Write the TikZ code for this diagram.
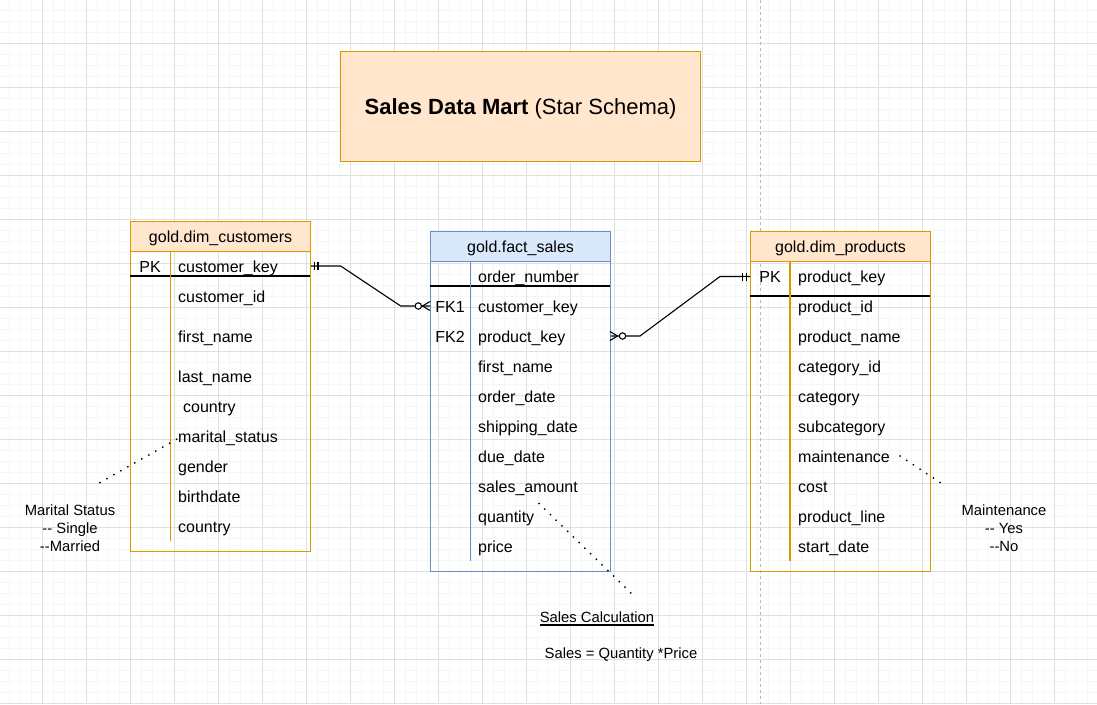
\documentclass[tikz,border=0pt]{standalone}
\usepackage{fontspec}
\setmainfont{Liberation Sans}
\definecolor{peach}{HTML}{FFE6CC}
\definecolor{orgB}{HTML}{D79B00}
\definecolor{bluF}{HTML}{DAE8FC}
\definecolor{bluB}{HTML}{6C8EBF}
\definecolor{gridmin}{HTML}{F6F6F6}
\definecolor{gridmaj}{HTML}{E0E0E0}
\definecolor{pageln}{HTML}{B8B8B8}
\tikzset{
 fld/.style={font=\fontsize{16}{19}\selectfont, inner sep=0pt, anchor=base west},
 keylbl/.style={font=\fontsize{16}{19}\selectfont, inner sep=0pt, anchor=base},
 hdr/.style={font=\fontsize{16}{19}\selectfont, minimum width=180pt, minimum height=30pt, anchor=north west, inner sep=0pt, text height=12.5pt, text depth=0pt, line width=1.1pt},
 tbl/.style={minimum width=180pt, anchor=north west, inner sep=0pt, line width=1.1pt},
 rel/.style={line width=1.1pt, black},
 dotln/.style={line width=2pt, line cap=round, dash pattern=on 0pt off 8pt, black},
 note/.style={font=\fontsize{14.8}{18}\selectfont, align=center, inner sep=0pt},
 minorln/.style={gridmin, line width=0.8pt},
 majorln/.style={gridmaj, line width=1pt},
}
\begin{document}
\begin{tikzpicture}[x=1pt,y=-1pt]
\fill[white] (0,0) rectangle (1097,704);
\useasboundingbox (0,0) rectangle (1097,704);
% grid
\foreach \i in {0,...,99} \draw[minorln] ({9.3+11*\i},0) -- ({9.3+11*\i},704);
\foreach \j in {0,...,63} \draw[minorln] (0,{10.3+11*\j}) -- (1097,{10.3+11*\j});
\foreach \i in {0,...,24} \draw[majorln] ({42.3+44*\i},0) -- ({42.3+44*\i},704);
\foreach \j in {0,...,15} \draw[majorln] (0,{43.3+44*\j}) -- (1097,{43.3+44*\j});
% page break line
\draw[pageln, line width=1pt, dash pattern=on 3pt off 3pt] (760.7,0) -- (760.7,704);

% title
\node[draw=orgB, fill=peach, line width=1.1pt, minimum width=360pt, minimum height=110pt, anchor=north west, inner sep=0pt, text height=15.8pt, text depth=0pt, font=\fontsize{22}{26}\selectfont] (title) at (340,51) {{\bfseries Sales Data Mart} (Star Schema)};

% ---------- customers ----------
\node[tbl, draw=orgB, minimum height=330pt] (cbox) at (130,221) {};
\node[hdr, draw=orgB, fill=peach] (chead) at (130,221) {gold.dim\_customers};
\draw[black, line width=1.1pt] (130,276) -- (310,276);
\draw[orgB, line width=1.1pt] (170.7,251) -- (170.7,541);
\node[keylbl] (cpk) at (150,272) {PK};
\foreach \t/\yy [count=\n] in {customer\_key/266, customer\_id/296, first\_name/336, last\_name/376, marital\_status/436, gender/466, birthdate/496, country/526}
  \node[fld] (c\n) at (178,\yy+6) {\t};
\node[fld] (c9) at (183,412) {country};

% ---------- fact ----------
\node[tbl, draw=bluB, minimum height=340pt] (fbox) at (430,231) {};
\node[hdr, draw=bluB, fill=bluF] (fhead) at (430,231) {gold.fact\_sales};
\draw[black, line width=1.1pt] (430,286) -- (610,286);
\draw[bluB, line width=1.1pt] (470.7,261) -- (470.7,561);
\node[keylbl] (fk1) at (450,312) {FK1};
\node[keylbl] (fk2) at (450,342) {FK2};
\foreach \t/\yy [count=\n] in {order\_number/276, customer\_key/306, product\_key/336, first\_name/366, order\_date/396, shipping\_date/426, due\_date/456, sales\_amount/486, quantity/516, price/546}
  \node[fld] (f\n) at (478,\yy+6) {\t};

% ---------- products ----------
\node[tbl, draw=orgB, minimum height=340pt] (pbox) at (750,231) {};
\node[hdr, draw=orgB, fill=peach] (phead) at (750,231) {gold.dim\_products};
\draw[black, line width=1.1pt] (750,296) -- (930,296);
\draw[orgB, line width=1.1pt] (790,261) -- (790,561);
\node[keylbl] (ppk) at (770,282) {PK};
\foreach \t/\yy [count=\n] in {product\_key/276, product\_id/306, product\_name/336, category\_id/366, category/396, subcategory/426, maintenance/456, cost/486, product\_line/516, start\_date/546}
  \node[fld] (p\n) at (798,\yy+6) {\t};

% ---------- relationship 1: customers -> fact ----------
\coordinate (r1a) at (cbox.east |- 0,266);
\coordinate (r1b) at (340.7,266);
\coordinate (r1c) at (400.7,306);
\coordinate (r1d) at (fbox.west |- 0,306);
\draw[rel] (r1a) -- (r1b) -- (r1c) -- (r1d);
\draw[rel] (314.5,262) -- (314.5,270) (318,262) -- (318,270);
\draw[rel] (422.5,306) -- (430,301.5) (422.5,306) -- (430,310.5);
\draw[rel, fill=white] (418.3,306) circle (3.2pt);

% ---------- relationship 2: fact -> products ----------
\coordinate (r2a) at (fbox.east |- 0,336);
\coordinate (r2b) at (640,336);
\coordinate (r2c) at (720,276.5);
\coordinate (r2d) at (pbox.west |- 0,276.5);
\draw[rel] (r2a) -- (r2b) -- (r2c) -- (r2d);
\draw[rel] (617.5,336) -- (610,331.5) (617.5,336) -- (610,340.5);
\draw[rel, fill=white] (622.5,336) circle (3.2pt);
\draw[rel] (742.5,272.5) -- (742.5,280.5) (746.5,272.5) -- (746.5,280.5);

% ---------- notes ----------
\node[note] (mnote) at (70,528) {Marital Status\\-{}- Single\\-{}-Married};
\node[note] (mtnote) at (1004,528) {Maintenance\\-{}- Yes\\-{}-No};
\node[note, text height=11pt, text depth=0pt] (scal) at (597,617) {Sales Calculation};
\draw[black, line width=1.6pt] ([yshift=-2.2pt]scal.south west) -- ([yshift=-2.2pt]scal.south east);
\node[note] (sform) at (621,655) {Sales = Quantity *Price};

\coordinate (d1a) at (100,482.5);
\coordinate (d1b) at (178,438.5);
\draw[dotln] (d1a) -- (d1b);
\coordinate (d2a) at (539,503.5);
\coordinate (d2b) at (632,594);
\draw[dotln] (d2a) -- (d2b);
\coordinate (d3a) at (900,456);
\coordinate (d3b) at (941,483);
\draw[dotln] (d3a) -- (d3b);
\end{tikzpicture}
\end{document}
